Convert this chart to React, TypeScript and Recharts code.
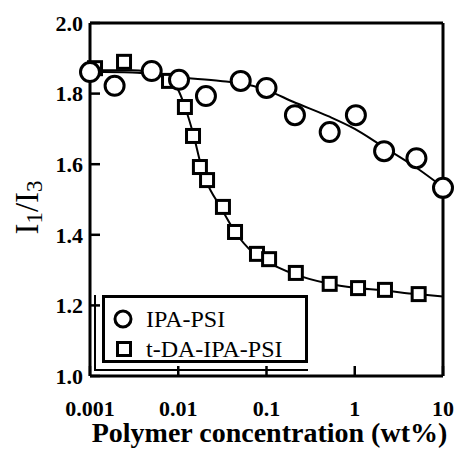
import React from 'react';
import { ComposedChart, Line, Scatter, XAxis, YAxis, Legend, Label } from 'recharts';

// IPA-PSI measured points
const ipaX = [0.001, 0.0019, 0.005, 0.0102, 0.0206, 0.051, 0.1, 0.21, 0.52, 1.03, 2.15, 5.0, 10];
const ipaY = [1.861, 1.822, 1.864, 1.839, 1.793, 1.836, 1.816, 1.739, 1.691, 1.739, 1.637, 1.617, 1.533];
// t-DA-IPA-PSI measured points
const tdaX = [0.00114, 0.00243, 0.00786, 0.0119, 0.0147, 0.0176, 0.0212, 0.0321, 0.044, 0.078, 0.107, 0.215, 0.52, 1.09, 2.2, 5.3];
const tdaY = [1.872, 1.89, 1.836, 1.762, 1.68, 1.592, 1.555, 1.479, 1.408, 1.346, 1.331, 1.292, 1.261, 1.249, 1.244, 1.232];
// guide curves
const ipaFitX = [0.001, 0.003, 0.01, 0.03, 0.05, 0.1, 0.2, 0.5, 1, 2, 5, 10];
const ipaFitY = [1.862, 1.86, 1.846, 1.836, 1.83, 1.81, 1.777, 1.736, 1.7, 1.653, 1.59, 1.535];
const tdaFitX = [0.001, 0.003, 0.006, 0.008, 0.01, 0.012, 0.015, 0.018, 0.021, 0.03, 0.045, 0.07, 0.1, 0.2, 0.5, 1, 2, 5, 10];
const tdaFitY = [1.866, 1.866, 1.855, 1.84, 1.81, 1.76, 1.68, 1.6, 1.55, 1.48, 1.405, 1.35, 1.325, 1.29, 1.262, 1.25, 1.243, 1.232, 1.225];

const xMajorTicks = [0.001, 0.01, 0.1, 1, 10];
const xMinorTicks = [
  0.002, 0.003, 0.004, 0.005, 0.006, 0.007, 0.008, 0.009,
  0.02, 0.03, 0.04, 0.05, 0.06, 0.07, 0.08, 0.09,
  0.2, 0.3, 0.4, 0.5, 0.6, 0.7, 0.8, 0.9,
  2, 3, 4, 5, 6, 7, 8, 9,
];
const yTicks = [1.0, 1.2, 1.4, 1.6, 1.8, 2.0];
const legendNames = ['IPA-PSI', 't-DA-IPA-PSI'];
const xTitle = 'Polymer concentration (wt%)';

const zip = (xs: number[], ys: number[]) => xs.map((x, i) => ({ x, y: ys[i] }));
const ipaData = zip(ipaX, ipaY);
const tdaData = zip(tdaX, tdaY);
const ipaFit = zip(ipaFitX, ipaFitY);
const tdaFit = zip(tdaFitX, tdaFitY);

const SERIF = 'Liberation Serif, Times New Roman, DejaVu Serif, serif';
const tickStyle = { fill: '#000', fontSize: 22, fontWeight: 'bold', fontFamily: SERIF, style: { fontFamily: SERIF } };

const CircleMark = (p: any) => (
  <circle cx={p.cx} cy={p.cy} r={9.5} fill="#fff" stroke="#000" strokeWidth={3} />
);
const SquareMark = (p: any) => (
  <rect x={p.cx - 6.5} y={p.cy - 6.5} width={13} height={13} fill="#fff" stroke="#000" strokeWidth={3} />
);

const YLabel = (props: any) => {
  const vb = props.viewBox || { x: 0, y: 0, width: 0, height: 0 };
  const cx = vb.x + 9;
  const cy = vb.y + vb.height / 2 + 8;
  return (
    <text
      x={cx}
      y={cy}
      transform={`rotate(-90 ${cx} ${cy})`}
      textAnchor="middle"
      dominantBaseline="central"
      style={{ fontFamily: SERIF }}
      fontSize={33}
      fill="#000"
    >
      I<tspan dy={7} fontSize={23}>1</tspan>
      <tspan dy={-7}>/I</tspan>
      <tspan dy={7} fontSize={23}>3</tspan>
    </text>
  );
};

const LegendBox = () => (
  <div
    style={{
      borderLeft: '2px solid #000',
      borderBottom: '2px solid #000',
      paddingLeft: 6,
      paddingBottom: 6,
      width: 'fit-content',
    }}
  >
    <div
      style={{
        border: '3px solid #000',
        background: '#fff',
        width: 206,
        height: 68,
        boxSizing: 'border-box',
      }}
    >
      <svg width={200} height={62} style={{ display: 'block', fontFamily: SERIF }}>
        <circle cx={18} cy={21} r={8} fill="#fff" stroke="#000" strokeWidth={3} />
        <text x={41} y={29} style={{ fontFamily: SERIF }} fontSize={24} fill="#000">{legendNames[0]}</text>
        <rect x={12.5} y={44.5} width={13} height={13} fill="#fff" stroke="#000" strokeWidth={3} />
        <text x={41} y={59} style={{ fontFamily: SERIF }} fontSize={24} fill="#000">{legendNames[1]}</text>
      </svg>
    </div>
  </div>
);

export default function App() {
  return (
    <div style={{ fontFamily: SERIF }}>
      <ComposedChart
        width={455}
        height={441}
        margin={{ top: 13, right: 19, bottom: 2, left: 10 }}
        style={{ background: '#fff', fontFamily: SERIF }}
      >
        {/* frame / minor-tick axes first */}
        <XAxis
          xAxisId="bm"
          dataKey="x"
          type="number"
          scale="log"
          domain={[0.001, 10]}
          ticks={xMinorTicks}
          tick={false}
          tickSize={-5}
          tickLine={{ stroke: '#000', strokeWidth: 2 }}
          axisLine={false}
          height={1}
          orientation="bottom"
          interval={0}
        />
        <XAxis
          xAxisId="t"
          dataKey="x"
          type="number"
          scale="log"
          domain={[0.001, 10]}
          ticks={xMajorTicks}
          tick={false}
          tickSize={-11}
          tickLine={{ stroke: '#000', strokeWidth: 2.5 }}
          axisLine={{ stroke: '#000', strokeWidth: 3 }}
          height={1}
          orientation="top"
          interval={0}
        />
        <XAxis
          xAxisId="tm"
          dataKey="x"
          type="number"
          scale="log"
          domain={[0.001, 10]}
          ticks={xMinorTicks}
          tick={false}
          tickSize={-6}
          tickLine={{ stroke: '#000', strokeWidth: 2.5 }}
          axisLine={false}
          height={1}
          orientation="top"
          interval={0}
        />
        <XAxis
          xAxisId="b"
          dataKey="x"
          type="number"
          scale="log"
          domain={[0.001, 10]}
          ticks={xMajorTicks}
          tickFormatter={(v: number) => String(v)}
          tick={tickStyle}
          tickSize={-10}
          tickMargin={34}
          tickLine={{ stroke: '#000', strokeWidth: 2.5 }}
          axisLine={{ stroke: '#000', strokeWidth: 3 }}
          height={70}
          interval={0}
        >
          <Label
            value={xTitle}
            position="insideBottom"
            offset={4}
            dx={3}
            fill="#000"
            fontSize={28}
            fontWeight="bold"
            fontFamily={SERIF}
            style={{ fontFamily: SERIF }}
          />
        </XAxis>
        <YAxis
          yAxisId="l"
          type="number"
          domain={[1, 2]}
          ticks={yTicks}
          tickFormatter={(v: number) => v.toFixed(1)}
          tick={tickStyle}
          tickSize={-10}
          tickMargin={17}
          tickLine={{ stroke: '#000', strokeWidth: 2.5 }}
          axisLine={{ stroke: '#000', strokeWidth: 3 }}
          width={72}
          interval={0}
          label={<YLabel />}
        />
        <YAxis
          yAxisId="r"
          orientation="right"
          type="number"
          domain={[1, 2]}
          ticks={yTicks}
          tick={false}
          tickSize={-10}
          tickLine={{ stroke: '#000', strokeWidth: 2.5 }}
          axisLine={{ stroke: '#000', strokeWidth: 3 }}
          width={1}
          interval={0}
        />
        <Line
          xAxisId="b"
          yAxisId="l"
          data={ipaFit}
          dataKey="y"
          type="monotone"
          stroke="#000"
          strokeWidth={2}
          dot={false}
          activeDot={false}
          isAnimationActive={false}
          legendType="none"
        />
        <Line
          xAxisId="b"
          yAxisId="l"
          data={tdaFit}
          dataKey="y"
          type="monotone"
          stroke="#000"
          strokeWidth={2}
          dot={false}
          activeDot={false}
          isAnimationActive={false}
          legendType="none"
        />
        <Scatter
          xAxisId="b"
          yAxisId="l"
          name={legendNames[1]}
          data={tdaData}
          dataKey="y"
          shape={SquareMark}
          isAnimationActive={false}
        />
        <Scatter
          xAxisId="b"
          yAxisId="l"
          name={legendNames[0]}
          data={ipaData}
          dataKey="y"
          shape={CircleMark}
          isAnimationActive={false}
        />
        <Legend
          layout="vertical"
          align="center"
          verticalAlign="middle"
          content={() => <LegendBox />}
          wrapperStyle={{ left: 86, top: 287, width: 'auto', height: 'auto' }}
        />
      </ComposedChart>
    </div>
  );
}
